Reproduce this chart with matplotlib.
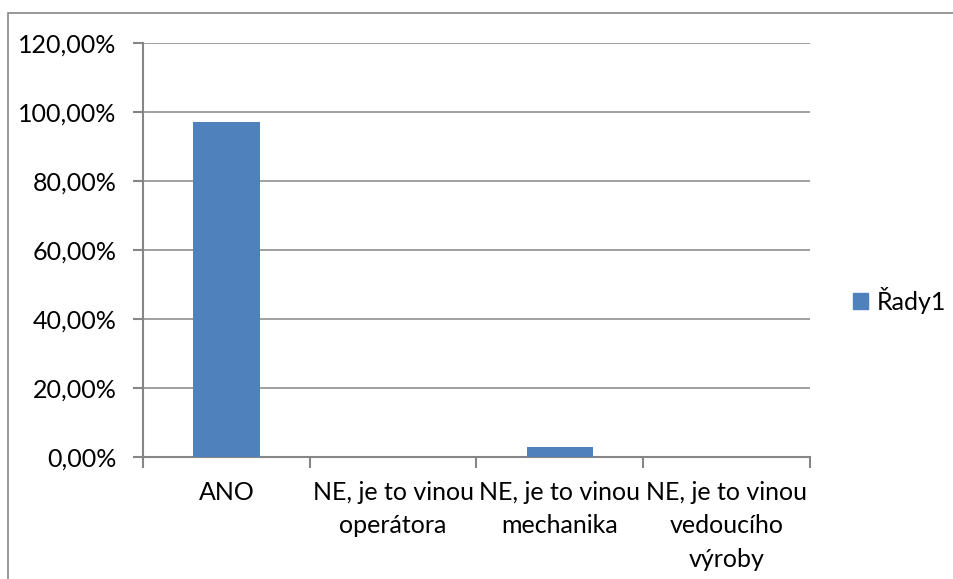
import matplotlib.pyplot as plt
from matplotlib.patches import Rectangle, Patch
from matplotlib.ticker import FuncFormatter

plt.rcParams['font.family'] = ['Lato', 'DejaVu Sans']

categories = ['ANO', 'NE, je to vinou\noperátora', 'NE, je to vinou\nmechanika',
              'NE, je to vinou\nvedoucího\nvýroby']
values = [96.97, 0.0, 3.03, 0.0]
series_name = 'Řady1'
yticks = [0, 20, 40, 60, 80, 100, 120]

bar_color = '#4f81bd'
axis_color = '#868686'

fig = plt.figure(figsize=(9.54, 5.79), dpi=100)

# chart area border (cut off at right and bottom like the reference)
fig.patches.append(Rectangle((8 / 954, -0.1), 1.2, 1 - 13 / 579 + 0.1,
                             transform=fig.transFigure, fill=False,
                             edgecolor=axis_color, linewidth=1.2))

ax = fig.add_axes([143 / 954, 1 - 457 / 579, (810 - 143) / 954, (457 - 43) / 579])
x = range(len(categories))
ax.bar(x, values, width=0.4, color=bar_color, zorder=3)

ax.set_xlim(-0.5, len(categories) - 0.5)
ax.set_ylim(0, 120)
ax.set_yticks(yticks)
ax.yaxis.set_major_formatter(FuncFormatter(lambda v, p: f'{v:.2f}'.replace('.', ',') + '%'))
ax.grid(axis='y', color=axis_color, linewidth=1.1, zorder=0)

ax.set_xticks([i - 0.5 for i in range(len(categories) + 1)])
ax.set_xticklabels([])
ax.set_xticks(list(x), minor=True)
ax.set_xticklabels(categories, minor=True, fontsize=18, linespacing=1.55,
                   va='top', ha='center')
ax.tick_params(axis='x', which='major', length=8, color=axis_color, width=1.5)
ax.tick_params(axis='x', which='minor', length=0, pad=17)
ax.tick_params(axis='y', length=7, color=axis_color, width=1.5, labelsize=18, pad=12)

for side in ['top', 'right']:
    ax.spines[side].set_visible(False)
for side in ['left', 'bottom']:
    ax.spines[side].set_color(axis_color)
    ax.spines[side].set_linewidth(1.5)

fig.legend(handles=[Patch(color=bar_color, label=series_name)], loc='center left',
           bbox_to_anchor=(853 / 954, 1 - 300 / 579), frameon=False, fontsize=18,
           borderpad=0, borderaxespad=0,
           handlelength=0.6, handleheight=0.6, handletextpad=0.35)

fig.savefig('out.png', dpi=100)
